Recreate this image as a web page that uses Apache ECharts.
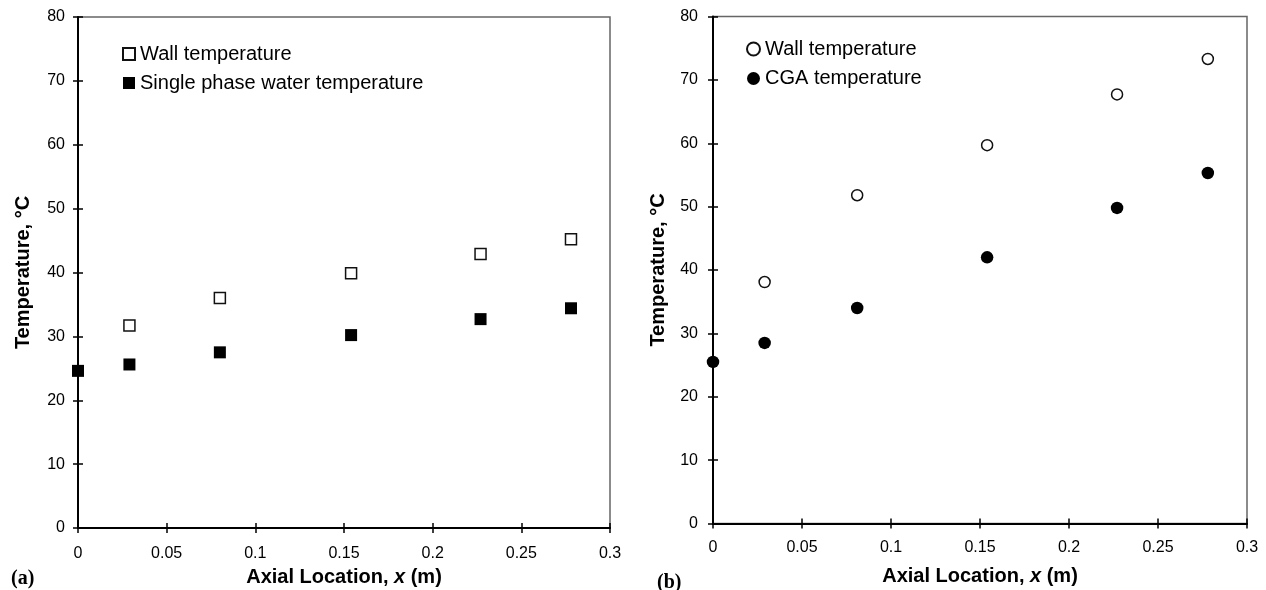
<!DOCTYPE html>
<html><head><meta charset="utf-8">
<script src="https://cdn.jsdelivr.net/npm/echarts@6/dist/echarts.min.js"></script>
<style>html,body{margin:0;padding:0;background:#fff}#c{width:1266px;height:590px}</style>
</head><body><div id="c"></div>
<script>
// Panel (a)
const xA_wall = [0.029, 0.080, 0.154, 0.227, 0.278];
const yA_wall = [31.7, 36.0, 39.9, 42.9, 45.2];
const xA_water = [0, 0.029, 0.080, 0.154, 0.227, 0.278];
const yA_water = [24.6, 25.6, 27.5, 30.2, 32.7, 34.4];
// Panel (b)
const xB_wall = [0.029, 0.081, 0.154, 0.227, 0.278];
const yB_wall = [38.1, 51.8, 59.7, 67.7, 73.3];
const xB_cga = [0, 0.029, 0.081, 0.154, 0.227, 0.278];
const yB_cga = [25.5, 28.5, 34.0, 42.0, 49.8, 55.3];
// Axes
const xTicks = [0, 0.05, 0.1, 0.15, 0.2, 0.25, 0.3];
const yTicks = [0, 10, 20, 30, 40, 50, 60, 70, 80];
const legendA = ['Wall temperature', 'Single phase water temperature'];
const legendB = ['Wall temperature', 'CGA temperature'];
const xTitle = ['Axial Location, ', 'x', ' (m)'];
const yTitle = 'Temperature, °C';
const panelLabels = ['(a)', '(b)'];

const pairs = (xs, ys) => xs.map((x, i) => [x, ys[i]]);
const FONT = 'Liberation Sans, Arial, sans-serif';
const xMin = xTicks[0], xMax = xTicks[xTicks.length - 1], xInt = xTicks[1] - xTicks[0];
const yMin = yTicks[0], yMax = yTicks[yTicks.length - 1], yInt = yTicks[1] - yTicks[0];

const grids = [
  {left: 78, top: 17, width: 532, height: 511},
  {left: 713, top: 16.5, width: 534, height: 507}
];

function mainX(g, gap, lblMargin) {
  return {
    type: 'value', gridIndex: g, min: xMin, max: xMax, interval: xInt,
    axisLine: {show: true, onZero: false, lineStyle: {color: '#000', width: 2}},
    axisTick: {show: true, inside: false, length: 5, lineStyle: {color: '#000', width: 1.5}},
    axisLabel: {show: true, margin: lblMargin, color: '#000', fontSize: 16, fontFamily: FONT,
      formatter: v => String(+v.toFixed(2))},
    splitLine: {show: false},
    name: '{b|' + xTitle[0] + '}{i|' + xTitle[1] + '}{b|' + xTitle[2] + '}',
    nameLocation: 'middle', nameGap: gap,
    nameTextStyle: {rich: {
      b: {fontSize: 20, fontWeight: 'bold', fontFamily: FONT, color: '#000'},
      i: {fontSize: 20, fontWeight: 'bold', fontStyle: 'italic', fontFamily: FONT, color: '#000'}
    }}
  };
}
function innerX(g) {
  return {type: 'value', gridIndex: g, min: xMin, max: xMax, interval: xInt, position: 'bottom',
    axisLine: {show: false}, axisTick: {show: true, inside: true, length: 5, lineStyle: {color: '#000', width: 1.5}},
    axisLabel: {show: false}, splitLine: {show: false}};
}
function mainY(g, gap, lblMargin) {
  return {
    type: 'value', gridIndex: g, min: yMin, max: yMax, interval: yInt,
    axisLine: {show: true, onZero: false, lineStyle: {color: '#000', width: 2}},
    axisTick: {show: true, inside: false, length: 5, lineStyle: {color: '#000', width: 1.5}},
    axisLabel: {show: true, margin: lblMargin, color: '#000', fontSize: 16, fontFamily: FONT},
    splitLine: {show: false},
    name: yTitle, nameLocation: 'middle', nameGap: gap,
    nameTextStyle: {fontSize: 20, fontWeight: 'bold', fontFamily: FONT, color: '#000'}
  };
}
function innerY(g) {
  return {type: 'value', gridIndex: g, min: yMin, max: yMax, interval: yInt, position: 'left',
    axisLine: {show: false}, axisTick: {show: true, inside: true, length: 5, lineStyle: {color: '#000', width: 1.5}},
    axisLabel: {show: false}, splitLine: {show: false}};
}

const hollow = {color: '#fff', borderColor: '#111', borderWidth: 1.5, opacity: 1};
const filled = {color: '#000', borderColor: '#000', borderWidth: 0, opacity: 1};

const nameMap = {'A wall': legendA[0], 'A water': legendA[1], 'B wall': legendB[0], 'B cga': legendB[1]};

const option = {
  backgroundColor: '#fff',
  animation: false,
  grid: grids.map(g => Object.assign({show: true, borderColor: '#666', borderWidth: 1.5, backgroundColor: 'transparent',
    containLabel: false, outerBoundsMode: 'none'}, g)),
  xAxis: [mainX(0, 39, 18), mainX(1, 43, 16), innerX(0), innerX(1)],
  yAxis: [mainY(0, 45, 13), mainY(1, 45, 15), innerY(0), innerY(1)],
  title: [
    {text: panelLabels[0], left: 6, top: 564, textStyle: {fontFamily: 'Liberation Serif, Times New Roman, serif', fontSize: 20, fontWeight: 'bold', color: '#000'}},
    {text: panelLabels[1], left: 652, top: 568, textStyle: {fontFamily: 'Liberation Serif, Times New Roman, serif', fontSize: 20, fontWeight: 'bold', color: '#000'}}
  ],
  legend: [
    {data: ['A wall', 'A water'], orient: 'vertical', left: 117, top: 39, itemWidth: 12, itemHeight: 12, itemGap: 9,
      formatter: n => nameMap[n], selectedMode: false,
      textStyle: {fontSize: 20, fontFamily: FONT, color: '#000'}},
    {data: ['B wall', 'B cga'], orient: 'vertical', left: 741, top: 34, itemWidth: 13, itemHeight: 13, itemGap: 9.5,
      formatter: n => nameMap[n], selectedMode: false,
      textStyle: {fontSize: 20, fontFamily: FONT, color: '#000'}}
  ],
  series: [
    {name: 'A wall', type: 'scatter', xAxisIndex: 0, yAxisIndex: 0, symbol: 'rect', symbolSize: 11,
      itemStyle: hollow, data: pairs(xA_wall, yA_wall)},
    {name: 'A water', type: 'scatter', xAxisIndex: 0, yAxisIndex: 0, symbol: 'rect', symbolSize: 12,
      itemStyle: filled, data: pairs(xA_water, yA_water)},
    {name: 'B wall', type: 'scatter', xAxisIndex: 1, yAxisIndex: 1, symbol: 'circle', symbolSize: 11,
      itemStyle: hollow, data: pairs(xB_wall, yB_wall)},
    {name: 'B cga', type: 'scatter', xAxisIndex: 1, yAxisIndex: 1, symbol: 'circle', symbolSize: 12.5,
      itemStyle: filled, data: pairs(xB_cga, yB_cga)}
  ]
};
const chart = echarts.init(document.getElementById('c'), null, {renderer: 'canvas'});
chart.setOption(option);
</script></body></html>
